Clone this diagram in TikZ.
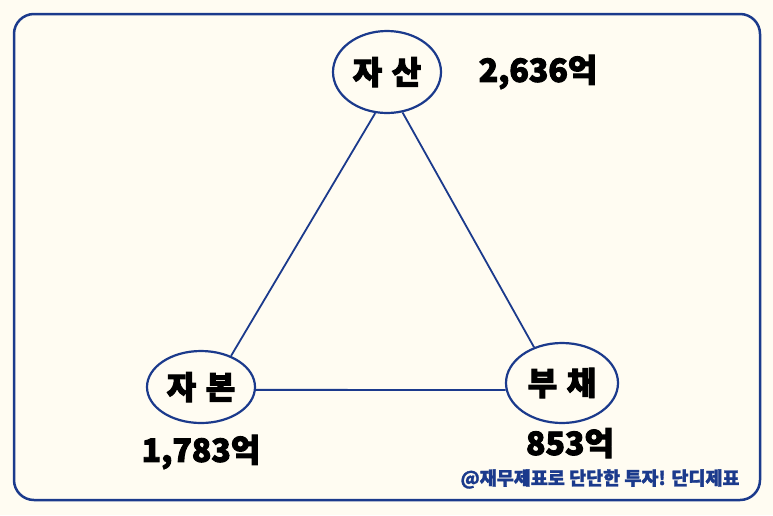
\documentclass[tikz,border=0pt]{standalone}
\usepackage{fontspec}
\setmainfont{Noto Sans CJK KR}
\newfontfamily\kr[FakeBold=3]{Noto Sans CJK KR Black}
\newfontfamily\krs[FakeBold=1.5]{Noto Sans CJK KR Black}
\usetikzlibrary{shapes.geometric}
\definecolor{bgc}{HTML}{FFFCF2}
\definecolor{navy}{HTML}{1B3A8C}
\tikzset{
  ell/.style={ellipse, draw=navy, line width=2.2pt, fill=bgc, inner sep=0pt, font=\kr\fontsize{32}{32}\selectfont},
  val/.style={font=\kr\fontsize{32}{32}\selectfont, inner sep=0pt},
  conn/.style={draw=navy, line width=1.8pt},
}
\begin{document}
\begin{tikzpicture}[x=1pt,y=-1pt]
\fill[bgc] (0,0) rectangle (773,515);
\useasboundingbox (0,0) rectangle (773,515);
\draw[navy, line width=2.5pt, rounded corners=20pt] (14,14) rectangle (760,500);
\node[ell, minimum width=108pt, minimum height=82pt] (asset) at (387,72) {자\hspace{0.3em}산};
\node[ell, minimum width=108pt, minimum height=72pt] (equity) at (201,387) {자\hspace{0.3em}본};
\node[ell, minimum width=112pt, minimum height=80pt] (debt) at (562,383) {부\hspace{0.3em}채};
\draw[conn] (asset.-106) -- (equity.46);
\draw[conn] (asset.-69) -- (debt.128);
\draw[conn] (equity.-3) -- (debt.-173);
\node[val] (va) at (538,72) {2,636억};
\node[val] (ve) at (201,452) {1,783억};
\node[val] (vd) at (570,443) {853억};
\node[font=\krs\fontsize{18.5}{18.5}\selectfont, text=navy, inner sep=0pt] (wm) at (600,479) {@재무제표로 단단한 투자! 단디제표};
\end{tikzpicture}
\end{document}
